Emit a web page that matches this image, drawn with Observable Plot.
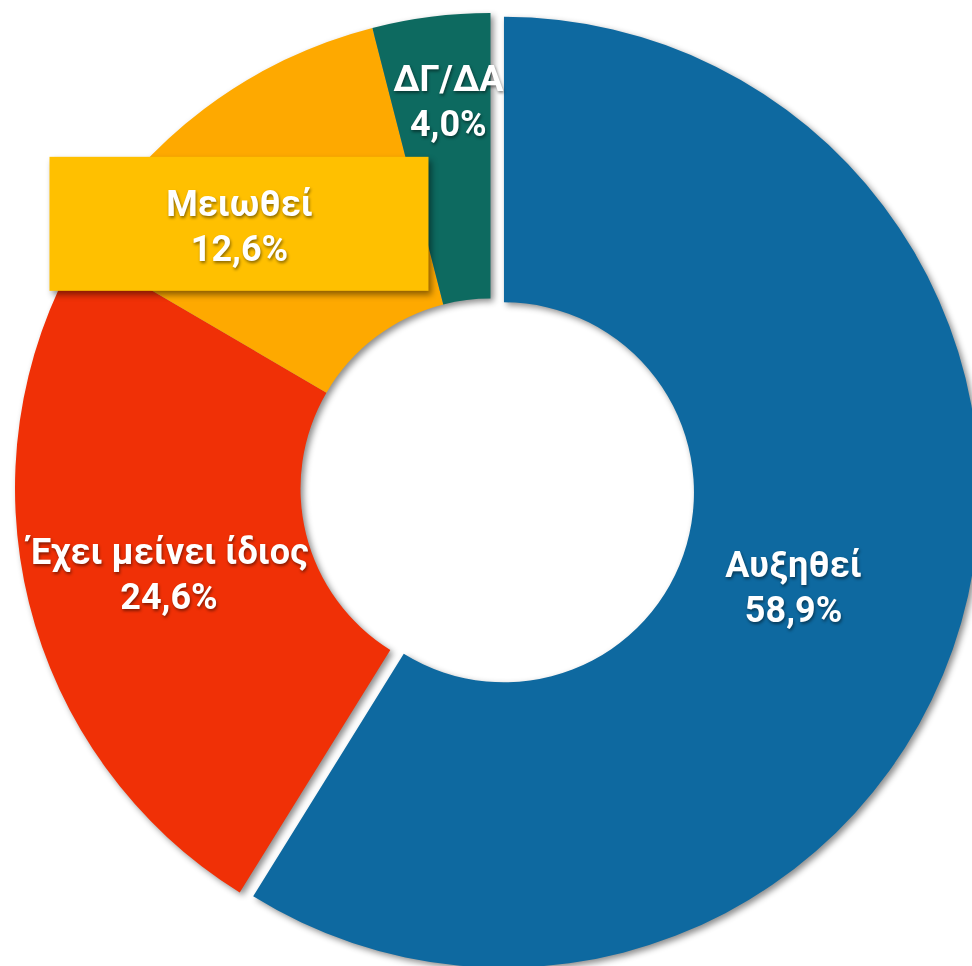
<!DOCTYPE html>
<html><head><meta charset="utf-8">
<script src="https://cdn.jsdelivr.net/npm/d3@7"></script>
<script src="https://cdn.jsdelivr.net/npm/@observablehq/plot@0.6"></script>
<style>
html,body{margin:0;padding:0;background:#fff;overflow:hidden;}
</style></head><body><div id="chart"></div>
<script>
// ---- data ----
const categories = ["Αυξηθεί", "Έχει μείνει ίδιος", "Μειωθεί", "ΔΓ/ΔΑ"];
const values = [58.9, 24.6, 12.6, 4.0];
const valueLabels = ["58,9%", "24,6%", "12,6%", "4,0%"];
const colors = ["#0e69a0", "#f03006", "#fea900", "#0d6a60"];
const exploded = ["Αυξηθεί"];
const boxed = ["Μειωθεί"];

// ---- layout ----
const W = 972, H = 966;
const cx = 490.5, cy = 488.5, R = 475.5;
const innerFrac = 190 / 475.5;
const explodePx = 14;
const labelFrac = 0.7;
const labelNudge = {"Αυξηθεί": [-31, 1], "Έχει μείνει ίδιος": [1, 3], "Μειωθεί": [-51, 1], "ΔΓ/ΔΑ": [-1, -60]};
const boxHalfW = 189.5, boxHalfH = 67;
const k = 1 / R;

const rows = categories.map((c, i) => ({category: c, value: values[i], label: valueLabels[i], color: colors[i]}));
const arcs = d3.pie().sort(null).value(d => d.value)(rows);
const slices = arcs.map(a => {
  const mid = (a.startAngle + a.endAngle) / 2;
  const off = exploded.includes(a.data.category) ? explodePx * k : 0;
  const ox = off * Math.sin(mid), oy = off * Math.cos(mid);
  const n = labelNudge[a.data.category];
  return {...a.data, startAngle: a.startAngle, endAngle: a.endAngle, ox, oy,
    lx: ox + labelFrac * Math.sin(mid) + n[0] * k,
    ly: oy + labelFrac * Math.cos(mid) - n[1] * k,
    text: a.data.category + "\n" + a.data.label};
});

function donut(index, scales, channels, dimensions, context) {
  const doc = (context && context.document) || document;
  const g = d3.select(doc.createElementNS("http://www.w3.org/2000/svg", "g"));
  const sx = scales.x, sy = scales.y;
  const unit = sx(1) - sx(0);
  const arc = d3.arc().innerRadius(innerFrac * unit).outerRadius(unit);
  g.style("filter", "drop-shadow(3px 3px 3px rgba(0,0,0,0.45))");
  g.selectAll("path").data(slices).join("path")
    .attr("transform", d => `translate(${sx(d.ox)},${sy(d.oy)})`)
    .attr("d", d => arc({startAngle: d.startAngle, endAngle: d.endAngle}))
    .attr("fill", d => d.color);
  return g.node();
}

const chart = Plot.plot({
  width: W, height: H, margin: 0,
  x: {domain: [-1, 1], range: [cx - R, cx + R], axis: null},
  y: {domain: [-1, 1], range: [cy + R, cy - R], axis: null},
  style: {background: "#fff", overflow: "hidden"},
  marks: [
    donut,
    Plot.rect(slices.filter(d => boxed.includes(d.category)), {
      x1: d => d.lx - boxHalfW * k, x2: d => d.lx + boxHalfW * k,
      y1: d => d.ly - boxHalfH * k, y2: d => d.ly + boxHalfH * k,
      fill: "#ffc000"
    }),
    Plot.text(slices, {x: "lx", y: "ly", text: "text", fill: "white",
      fontSize: 36, fontWeight: 700, fontFamily: "Roboto", lineHeight: 1.25})
  ]
});
document.getElementById("chart").appendChild(chart);
d3.select(chart).selectAll('g[aria-label="rect"]').style("filter", "drop-shadow(3px 4px 3px rgba(0,0,0,0.45))");
d3.select(chart).selectAll('g[aria-label="text"]').style("filter", "drop-shadow(1px 2px 1.5px rgba(0,0,0,0.45))");
</script></body></html>
